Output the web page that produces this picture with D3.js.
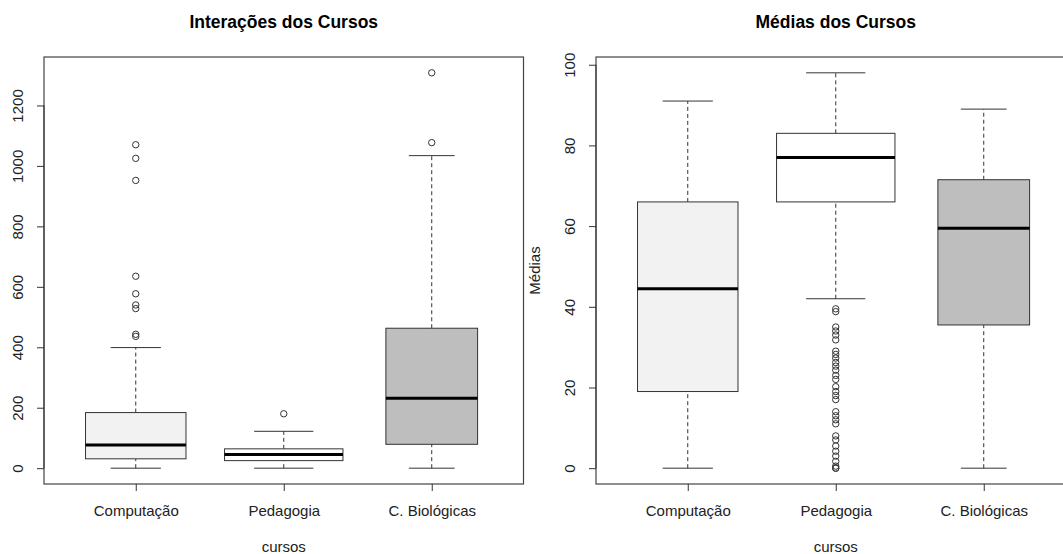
<!DOCTYPE html>
<html>
<head>
<meta charset="utf-8">
<script src="https://cdn.jsdelivr.net/npm/d3@7"></script>
<style>
  body { margin: 0; background: #fff; }
  svg, svg text { font-family: "Liberation Sans", Arial, sans-serif; }
  .title { font-weight: bold; font-size: 17.5px; }
  .tick text { font-size: 15px; fill: #222; }
</style>
</head>
<body>
<svg width="1063" height="554"></svg>
<script>
// categorias e tamanho das amostras (largura proporcional a sqrt(n))
const cursos = ["Computação", "Pedagogia", "C. Biológicas"];
const alunos = [72, 100, 60];
const cores = ["#f2f2f2", "#ffffff", "#bebebe"];

// [min, Q1, mediana, Q3, max] dos bigodes
const interStats = [[0, 31, 77, 184, 399], [0, 25, 45, 64, 122], [0, 79, 231, 463, 1034]];
const interOutliers = [[1070, 1025, 952, 635, 577, 540, 528, 443, 436], [180], [1077, 1308]];
const interTicks = [0, 200, 400, 600, 800, 1000, 1200];

const mediaStats = [[0, 19, 44.5, 66, 91], [42, 66, 77, 83, 98], [0, 35.5, 59.5, 71.5, 89]];
const mediaOutliers = [
  [],
  [39.5, 38.8, 35, 34, 33, 31.8, 29, 28.2, 27.3, 26.2, 25.3, 24.3, 23, 22, 20.2, 19, 18, 17,
   14, 13, 12, 11, 8, 7, 5.5, 4.2, 3, 1.7, 0.5, 0, 0],
  []
];
const mediaTicks = [0, 20, 40, 60, 80, 100];

const svg = d3.select("svg");

function drawPanel(opts) {
  const g = svg.append("g");
  const x = d3.scaleLinear().domain([0.38, 3.62]).range([opts.left, opts.left + 479.5]);
  const lo = d3.min(opts.stats.map((s, i) => d3.min([s[0], ...opts.outliers[i]])));
  const hi = d3.max(opts.stats.map((s, i) => d3.max([s[4], ...opts.outliers[i]])));
  const pad = (hi - lo) * 0.04;
  const y = d3.scaleLinear().domain([lo - pad, hi + pad]).range([484, 57]);
  const maxN = d3.max(alunos);
  const unit = x(2) - x(1);

  // caixas
  opts.stats.forEach((s, i) => {
    const cx = x(i + 1);
    const hw = 0.4 * unit * Math.sqrt(alunos[i] / maxN);
    const b = g.append("g");
    // bigodes tracejados
    b.append("line").attr("x1", cx).attr("x2", cx).attr("y1", y(s[0])).attr("y2", y(s[1]))
      .attr("stroke", "#333").attr("stroke-dasharray", "4,3");
    b.append("line").attr("x1", cx).attr("x2", cx).attr("y1", y(s[3])).attr("y2", y(s[4]))
      .attr("stroke", "#333").attr("stroke-dasharray", "4,3");
    // staples
    [s[0], s[4]].forEach(v => {
      b.append("line").attr("x1", cx - hw / 2).attr("x2", cx + hw / 2)
        .attr("y1", y(v)).attr("y2", y(v)).attr("stroke", "#333");
    });
    b.append("rect").attr("x", cx - hw).attr("width", 2 * hw)
      .attr("y", y(s[3])).attr("height", y(s[1]) - y(s[3]))
      .attr("fill", cores[i]).attr("stroke", "#333");
    b.append("line").attr("x1", cx - hw).attr("x2", cx + hw)
      .attr("y1", y(s[2])).attr("y2", y(s[2])).attr("stroke", "#000").attr("stroke-width", 3);
    b.selectAll("circle").data(opts.outliers[i]).enter().append("circle")
      .attr("cx", cx).attr("cy", d => y(d)).attr("r", 3.2)
      .attr("fill", "none").attr("stroke", "#333");
  });

  // moldura
  g.append("rect").attr("x", opts.left).attr("y", 57)
    .attr("width", 479.5).attr("height", 427)
    .attr("fill", "none").attr("stroke", "#444").attr("stroke-width", 1.2);

  // eixo y
  const ay = g.append("g").attr("transform", `translate(${opts.left},0)`)
    .call(d3.axisLeft(y).tickValues(opts.ticks).tickFormat(d3.format("d")).tickSize(7).tickSizeOuter(0));
  ay.select(".domain").remove();
  ay.append("line").attr("y1", y(opts.ticks[0])).attr("y2", y(opts.ticks[opts.ticks.length - 1]))
    .attr("stroke", "#333");
  ay.selectAll(".tick line").attr("stroke", "#333");
  ay.selectAll(".tick text").attr("transform", "rotate(-90)")
    .attr("x", 0).attr("y", -21).attr("dy", null).attr("text-anchor", "middle");

  // eixo x
  const ax = g.append("g").attr("transform", "translate(0,484)")
    .call(d3.axisBottom(x).tickValues([1, 2, 3]).tickFormat((d, i) => cursos[i]).tickSize(7));
  ax.select(".domain").remove();
  ax.selectAll(".tick line").attr("stroke", "#333");
  ax.selectAll(".tick text").attr("y", 32).attr("dy", null);

  const mid = opts.left + 479.5 / 2;
  g.append("text").attr("class", "title").attr("x", mid).attr("y", 28)
    .attr("text-anchor", "middle").text(opts.title);
  g.append("text").attr("x", mid).attr("y", 552).attr("text-anchor", "middle")
    .attr("font-size", 15).attr("fill", "#222").text("cursos");
  if (opts.ylabel) {
    g.append("text").attr("transform", `translate(${opts.left - 56},270.5) rotate(-90)`)
      .attr("text-anchor", "middle").attr("font-size", 15).attr("fill", "#222").text(opts.ylabel);
  }
}

drawPanel({ left: 44, title: "Interações dos Cursos", stats: interStats, outliers: interOutliers, ticks: interTicks });
drawPanel({ left: 596, title: "Médias dos Cursos", stats: mediaStats, outliers: mediaOutliers, ticks: mediaTicks, ylabel: "Médias" });
</script>
</body>
</html>
